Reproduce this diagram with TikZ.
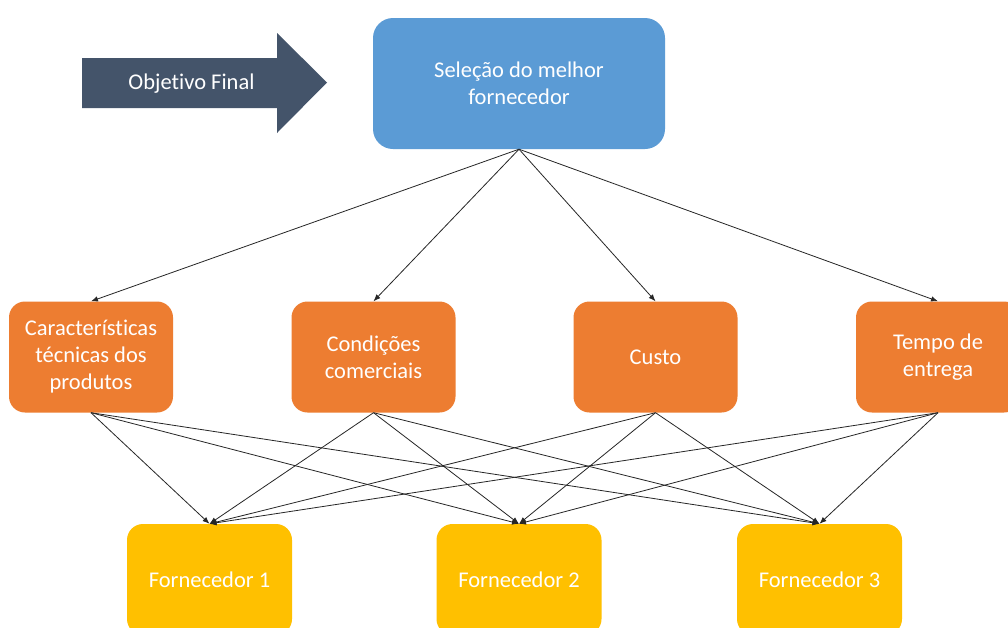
\documentclass[tikz,border=0pt]{standalone}
\usepackage{fontspec}
\setmainfont[Ligatures=NoCommon]{Carlito}
\usetikzlibrary{arrows.meta}
\begin{document}
\begin{tikzpicture}[x=1pt,y=-1pt,
  box/.style={rounded corners=16pt, text=white, align=center, inner sep=0pt,
    font=\fontsize{22.5}{27}\selectfont},
  topbox/.style={box, fill=topblue, minimum width=292pt, minimum height=131pt, rounded corners=20pt},
  midbox/.style={box, fill=critorange, minimum width=164pt, minimum height=111pt},
  botbox/.style={box, fill=supyellow, minimum width=165pt, minimum height=111pt},
  conn/.style={-{Latex[length=7pt,width=5.5pt]}, line width=0.8pt, black!85}
]
\definecolor{topblue}{HTML}{5B9BD5}
\definecolor{critorange}{HTML}{ED7D31}
\definecolor{supyellow}{HTML}{FFC000}
\definecolor{arrowslate}{HTML}{44546A}
\useasboundingbox (0,0) rectangle (1008,627);
\clip (0,0) rectangle (1008,627);
\fill[white] (0,0) rectangle (1008,627);

% big arrow
\fill[arrowslate] (82,58) -- (277,58) -- (277,33) -- (327,82.5) -- (277,133) -- (277,108) -- (82,108) -- cycle;
\node[text=white, font=\fontsize{22.5}{27}\selectfont] (goal) at (191.5,84) {Objetivo Final};

\node[topbox] (top) at (519,83.5) {Seleção do melhor\\fornecedor};

\node[midbox] (c1) at (91,357) {Características\\técnicas dos\\produtos};
\node[midbox] (c2) at (373.5,357) {Condições\\comerciais};
\node[midbox] (c3) at (655.5,357) {Custo};
\node[midbox] (c4) at (938,357) {Tempo de\\entrega};

\node[botbox] (f1) at (209.5,579.5) {Fornecedor 1};
\node[botbox] (f2) at (519,579.5) {Fornecedor 2};
\node[botbox] (f3) at (819.5,579.5) {Fornecedor 3};

\foreach \c in {c1,c2,c3,c4}{
  \draw[conn] (top.south) -- (\c.north);
}
\foreach \c in {c1,c2,c3,c4}{
  \foreach \f in {f1,f2,f3}{
    \draw[conn] (\c.south) -- (\f.north);
  }
}
\end{tikzpicture}
\end{document}
